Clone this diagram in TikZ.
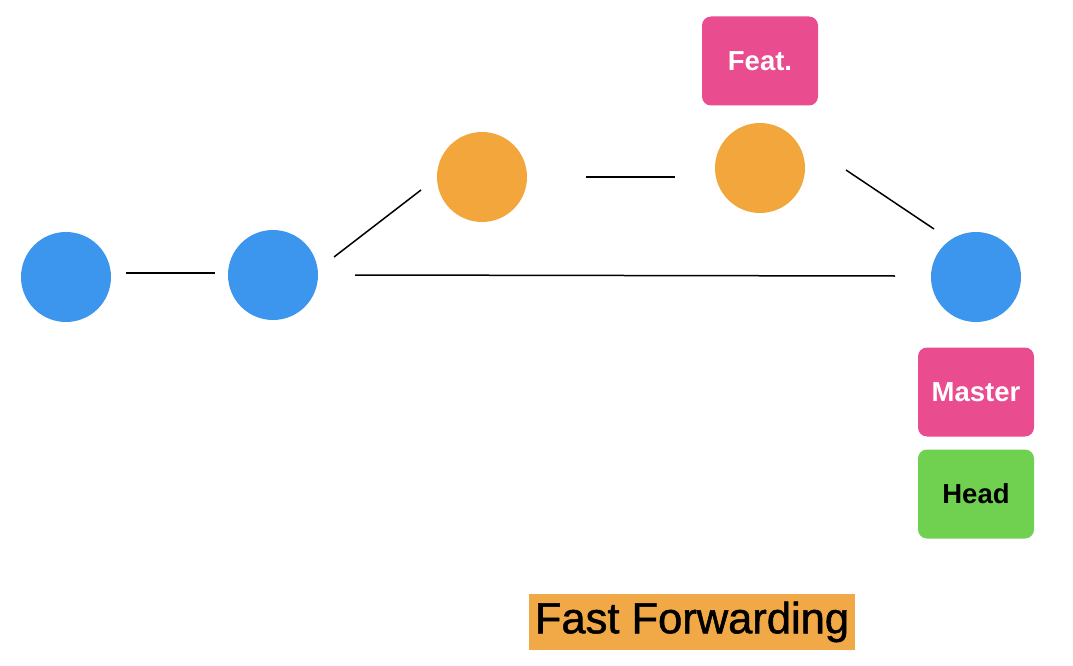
\documentclass[tikz,border=0pt]{standalone}
\usepackage{fontspec}
\setmainfont{Liberation Sans}
\newfontfamily\titlefont{Liberation Sans}[FakeBold=1.2]
\usetikzlibrary{calc}
\definecolor{cblue}{RGB}{60,150,238}
\definecolor{corange}{RGB}{242,166,60}
\definecolor{cpink}{RGB}{233,76,143}
\definecolor{cgreen}{RGB}{112,208,80}
\definecolor{cbanner}{RGB}{241,168,70}
\begin{document}
\begin{tikzpicture}[x=1pt,y=-1pt,
  commit/.style={circle,minimum size=90pt,inner sep=0pt},
  bluec/.style={commit,fill=cblue},
  orangec/.style={commit,fill=corange},
  tag/.style={rounded corners=9pt,minimum width=116pt,minimum height=89pt,inner sep=0pt,font=\fontsize{27.5}{30}\selectfont\bfseries},
  link/.style={line width=1.5pt,black}]
\useasboundingbox (0,0) rectangle (1073,666);
\node[bluec] (A) at (66,277) {};
\node[bluec] (B) at (273,275) {};
\node[orangec] (C) at (482,177) {};
\node[orangec] (D) at (760,168) {};
\node[bluec] (E) at (976,277) {};
\node[tag,fill=cpink,text=white] (feat) at (760,61) {Feat.};
\node[tag,fill=cpink,text=white] (master) at (976,392) {Master};
\node[tag,fill=cgreen,text=black] (head) at (976,494) {Head};
\node[fill=cbanner,minimum width=326pt,minimum height=56pt,inner sep=0pt,font=\titlefont\fontsize{43.5}{46}\selectfont] (title) at (692,622) {Fast Forwarding};
\draw[link] ($(A)+(60,-4)$) -- ($(B)+(-58,-2)$);
\draw[link] ($(B)+(61,-18)$) -- ($(C)+(-61,13)$);
\draw[link] ($(C)+(104,0)$) -- ($(D)+(-85,9)$);
\draw[link] ($(D)+(86,2)$) -- ($(E)+(-42,-48)$);
\draw[link] ($(B)+(82,0)$) -- ($(E)+(-81,-1)$);
\end{tikzpicture}
\end{document}
